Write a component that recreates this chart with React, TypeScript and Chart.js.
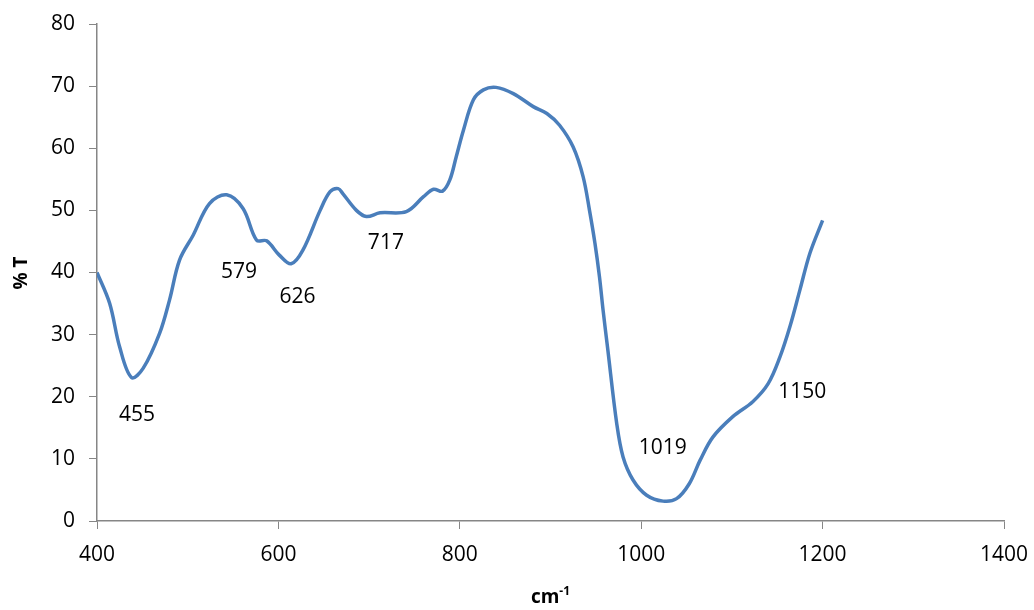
import React, { useEffect, useRef } from "react";
import { Chart, registerables } from "chart.js";

Chart.register(...registerables);

// IR spectrum: wavenumber (cm-1) vs transmittance (%T)
const wavenumbers = [
  400, 414, 425, 438, 451, 469, 480, 491, 506, 524, 543, 561, 576, 587, 601, 614,
  627, 646, 657, 666, 671, 686, 697, 712, 741, 760, 771, 781, 789, 796, 804, 815,
  826, 840, 859, 881, 896, 910, 925, 936, 943, 949, 954, 958, 963, 973, 980, 991,
  1006, 1024, 1039, 1053, 1065, 1079, 1101, 1123, 1140, 1153, 1164, 1175, 1186, 1200,
];
const transmittance = [
  40.0, 35.0, 28.0, 23.1, 24.6, 30.2, 35.6, 42.0, 46.0, 51.1, 52.5, 50.3, 45.2, 45.1, 42.8, 41.4,
  43.6, 50.0, 53.0, 53.5, 52.7, 50.0, 49.0, 49.6, 49.8, 52.2, 53.4, 53.1, 54.9, 58.6, 62.9, 67.8,
  69.4, 69.8, 68.8, 66.7, 65.6, 63.7, 60.2, 55.4, 50.0, 44.7, 39.3, 33.9, 27.8, 15.7, 10.3, 6.6,
  4.15, 3.2, 3.6, 6.0, 9.8, 13.5, 16.8, 19.2, 22.1, 26.4, 31.3, 37.2, 43.1, 48.4,
];

// Band annotations: text and where it sits in data space
const bandLabels = ["455", "579", "626", "717", "1019", "1150"];
const bandLabelX = [444, 556.5, 621, 718.5, 1023.7, 1177.5];
const bandLabelY = [17.0, 40.0, 36.0, 44.7, 11.7, 20.7];

const FONT = "'Open Sans', 'DejaVu Sans', sans-serif";

const annotationPlugin = {
  id: "bandAnnotations",
  afterDraw(chart: any) {
    const { ctx, scales } = chart;
    ctx.save();
    ctx.fillStyle = "#000";
    ctx.font = `21px ${FONT}`;
    ctx.textAlign = "center";
    ctx.textBaseline = "middle";
    bandLabels.forEach((t, i) => {
      ctx.fillText(t, scales.x.getPixelForValue(bandLabelX[i]), scales.y.getPixelForValue(bandLabelY[i]));
    });

    // x-axis title with superscript
    const cx = (chart.chartArea.left + chart.chartArea.right) / 2;
    const by = 603;
    ctx.textBaseline = "alphabetic";
    ctx.textAlign = "left";
    ctx.font = `bold 19px ${FONT}`;
    const w1 = ctx.measureText("cm").width;
    ctx.font = `bold 12px ${FONT}`;
    const w2 = ctx.measureText("-1").width;
    const start = cx - (w1 + w2) / 2;
    ctx.font = `bold 19px ${FONT}`;
    ctx.fillText("cm", start, by);
    ctx.font = `bold 12px ${FONT}`;
    ctx.fillText("-1", start + w1, by - 8);

    // y-axis title
    ctx.translate(22, 273);
    ctx.rotate(-Math.PI / 2);
    ctx.textAlign = "center";
    ctx.textBaseline = "middle";
    ctx.font = `bold 19px ${FONT}`;
    ctx.fillText("% T", 0, 0);
    ctx.restore();
  },
};

export default function App() {
  const ref = useRef<HTMLCanvasElement>(null);

  useEffect(() => {
    document.body.style.margin = "0";
    const points = wavenumbers.map((x, i) => ({ x, y: transmittance[i] }));
    const chart = new Chart(ref.current!, {
      type: "line",
      data: {
        datasets: [
          {
            data: points,
            borderColor: "#4a7ebb",
            borderWidth: 3.5,
            pointRadius: 0,
            fill: false,
            tension: 0.35,
          },
        ],
      },
      options: {
        animation: false,
        responsive: false,
        parsing: false as any,
        layout: { padding: { left: 0, top: 24, right: 30, bottom: 0 } },
        plugins: { legend: { display: false }, tooltip: { enabled: false } },
        scales: {
          x: {
            type: "linear",
            min: 400,
            max: 1400,
            ticks: {
              stepSize: 200,
              color: "#000",
              font: { family: FONT, size: 21 },
              padding: 13,
              maxRotation: 0,
              callback: (v: any) => String(v),
            },
            grid: { drawOnChartArea: false, drawTicks: true, tickLength: 8, color: "#868686" },
            border: { color: "#868686", width: 1.5 },
            afterFit(scale: any) {
              scale.height = 89;
              scale.paddingLeft = 0;
              scale.paddingRight = 0;
            },
          },
          y: {
            min: 0,
            max: 80,
            ticks: { stepSize: 10, color: "#000", font: { family: FONT, size: 21 }, padding: 14 },
            grid: { drawOnChartArea: false, drawTicks: true, tickLength: 8, color: "#868686" },
            border: { color: "#868686", width: 1.5 },
            afterFit(scale: any) {
              scale.width = 97;
              scale.paddingTop = 0;
              scale.paddingBottom = 0;
            },
          },
        },
      },
      plugins: [annotationPlugin],
    });
    return () => chart.destroy();
  }, []);

  return (
    <div style={{ width: 1034, height: 610, background: "#fff" }}>
      <canvas ref={ref} width={1034} height={610} style={{ display: "block" }} />
    </div>
  );
}
